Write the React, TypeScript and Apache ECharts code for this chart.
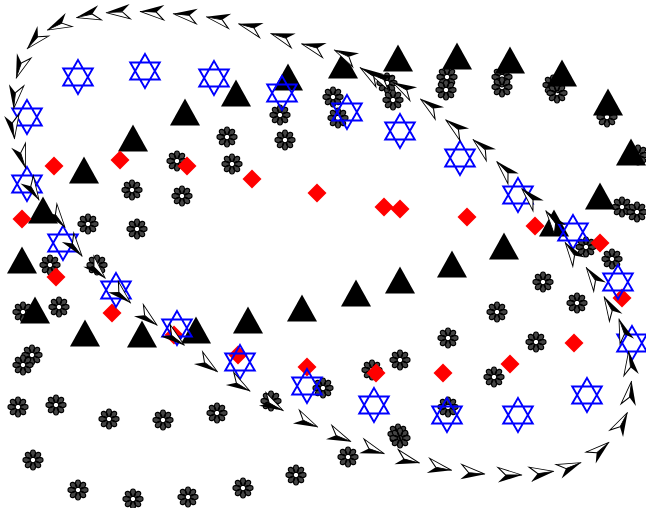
import React, { useEffect, useRef } from "react";
import * as echarts from "echarts";

// Hidden axes: x from 0 to 646, y from 0 to 508 (downwards)
const arrowTrack: [number, number][] = [
  [35, 40], [20, 67], [15, 97], [13, 127], [22, 157], [33, 190], [58, 218], [75, 247],
  [97, 270], [122, 295], [148, 318], [175, 338], [208, 365], [240, 385], [273, 405],
  [307, 422], [340, 437], [373, 450], [408, 460], [440, 468], [473, 473], [510, 475],
  [542, 473], [570, 467], [600, 450], [622, 423], [630, 393], [630, 363], [623, 330],
  [610, 307], [593, 277], [572, 252], [553, 220], [530, 197], [505, 170], [482, 147],
  [455, 127], [430, 106], [403, 88], [380, 78], [370, 74], [345, 55], [313, 47],
  [282, 37], [250, 27], [218, 19], [185, 15], [152, 12], [118, 12], [88, 15], [58, 25],
];

const starPoints: [number, number][] = [
  [78, 77], [145, 71], [214, 78], [282, 93], [347, 112], [400, 131], [460, 158],
  [518, 195], [573, 232], [618, 282], [632, 343], [587, 395], [518, 415], [447, 415],
  [374, 405], [307, 386], [240, 362], [177, 328], [116, 290], [63, 243], [27, 184], [27, 117],
];

const trianglePoints: [number, number][] = [
  [398, 58], [457, 56], [510, 60], [562, 73], [608, 102], [631, 152], [600, 196],
  [554, 223], [504, 246], [452, 264], [400, 280], [356, 293], [302, 308], [248, 320],
  [196, 330], [142, 334], [85, 333], [35, 310], [22, 260], [43, 210], [84, 170],
  [133, 138], [185, 112], [236, 93], [288, 77], [343, 65],
];

const diamondPoints: [number, number][] = [
  [54, 166], [120, 160], [187, 166], [252, 179], [317, 193], [384, 207], [400, 209],
  [467, 217], [535, 226], [600, 243], [622, 298], [574, 343], [510, 364], [443, 373],
  [376, 373], [307, 367], [238, 355], [174, 335], [112, 313], [56, 277], [22, 219],
];

const flowerPoints: [number, number][] = [
  [333, 97], [338, 118], [387, 83], [393, 100], [447, 77], [446, 90], [502, 77], [502, 87],
  [553, 85], [557, 93], [607, 117], [638, 155], [280, 115], [285, 140], [227, 137],
  [232, 164], [177, 161], [132, 190], [182, 196], [88, 224], [137, 229], [50, 265],
  [97, 265], [59, 307], [23, 312], [32, 355], [23, 365], [18, 407], [56, 405], [109, 419],
  [163, 420], [217, 413], [271, 401], [323, 388], [372, 370], [400, 360], [448, 338],
  [497, 312], [543, 282], [577, 303], [612, 259], [586, 247], [622, 207], [637, 212],
  [536, 342], [494, 377], [448, 407], [398, 434], [400, 438], [348, 457], [296, 475],
  [243, 488], [188, 497], [133, 499], [78, 490], [33, 460],
];

function flowerSymbol(): string {
  const parts: string[] = [];
  const r1 = 2.6;
  const r2 = 10;
  const d = 3.4;
  const f = (v: number) => v.toFixed(2);
  for (let k = 0; k < 8; k++) {
    const a = (k * Math.PI) / 4;
    const ux = Math.cos(a), uy = Math.sin(a);
    const nx = -uy, ny = ux;
    const bx = ux * r1, by = uy * r1;
    const tx = ux * r2, ty = uy * r2;
    parts.push(
      `M${f(bx)} ${f(by)} C${f(bx + nx * d)} ${f(by + ny * d)} ${f(tx + nx * d)} ${f(ty + ny * d)} ${f(tx)} ${f(ty)} ` +
        `C${f(tx - nx * d)} ${f(ty - ny * d)} ${f(bx - nx * d)} ${f(by - ny * d)} ${f(bx)} ${f(by)} Z`
    );
  }
  return "path://M-10.5 -10.5 M10.5 10.5 " + parts.join(" ");
}

const starSymbol =
  "path://M0 -17 L14.72 8.5 L-14.72 8.5 Z M0 17 L14.72 -8.5 L-14.72 -8.5 Z";
const arrowWhite = "path://M-11 -7 M11 7 M11 0 L-11 -7 L-4 0 Z";
const arrowBlack = "path://M-11 -7 M11 7 M11 0 L-11 7 L-4 0 Z";

export default function App() {
  const ref = useRef<HTMLDivElement>(null);
  useEffect(() => {
    if (!ref.current) return;
    const chart = echarts.init(ref.current, undefined, { renderer: "svg" });
    const n = arrowTrack.length;
    const arrowData = arrowTrack.map((p, i) => {
      const prev = arrowTrack[(i - 1 + n) % n];
      const next = arrowTrack[(i + 1) % n];
      const deg = (Math.atan2(-(next[1] - prev[1]), next[0] - prev[0]) * 180) / Math.PI;
      return { value: p, symbolRotate: deg };
    });
    chart.setOption({
      animation: false,
      backgroundColor: "#ffffff",
      grid: { left: 0, right: 0, top: 0, bottom: 0 },
      xAxis: { type: "value", min: 0, max: 646, show: false },
      yAxis: { type: "value", min: 0, max: 508, inverse: true, show: false },
      series: [
        {
          type: "scatter",
          clip: false,
          data: flowerPoints,
          symbol: flowerSymbol(),
          symbolSize: 21,
          itemStyle: { color: "#444444", borderColor: "#000", borderWidth: 1.2, opacity: 1 },
        },
        {
          type: "scatter",
          clip: false,
          data: trianglePoints,
          symbol: "triangle",
          symbolSize: [30, 27],
          itemStyle: { color: "#000", opacity: 1 },
        },
        {
          type: "scatter",
          clip: false,
          data: diamondPoints,
          symbol: "diamond",
          symbolSize: [19, 19],
          itemStyle: { color: "#ff0000", opacity: 1 },
        },
        {
          type: "scatter",
          clip: false,
          data: starPoints,
          symbol: starSymbol,
          symbolSize: [29.4, 34],
          itemStyle: { color: "rgba(0,0,0,0)", borderColor: "#0000ff", borderWidth: 2, opacity: 1 },
        },
        {
          type: "scatter",
          clip: false,
          data: arrowData,
          symbol: arrowWhite,
          symbolSize: [24, 15],
          itemStyle: { color: "#ffffff", borderColor: "#000", borderWidth: 1, opacity: 1 },
        },
        {
          type: "scatter",
          clip: false,
          data: arrowData,
          symbol: arrowBlack,
          symbolSize: [24, 15],
          itemStyle: { color: "#000", opacity: 1 },
        },
      ],
    });
    return () => chart.dispose();
  }, []);
  return (
    <div
      ref={ref}
      style={{ position: "fixed", left: 0, top: 0, width: 646, height: 508 }}
    />
  );
}
